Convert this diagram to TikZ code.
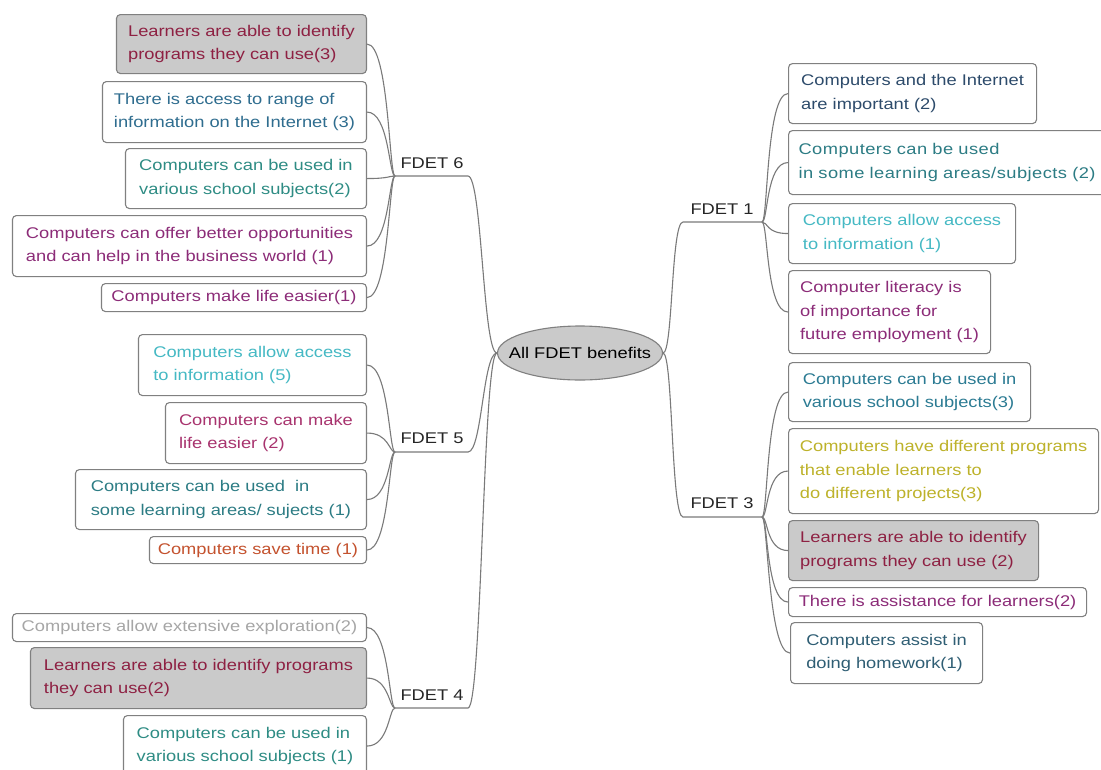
\documentclass[tikz,border=0pt]{standalone}
\usepackage{fontspec}
\setmainfont{Liberation Sans}[FakeStretch=1.18]
\usetikzlibrary{shapes.geometric}

\definecolor{linegray}{HTML}{7A7A7A}
\definecolor{edgegray}{HTML}{808080}
\definecolor{shade}{HTML}{CACACA}
\definecolor{cMaroon}{HTML}{8E2143}
\definecolor{cSteel}{HTML}{2F6D8F}
\definecolor{cTeal}{HTML}{2E8C84}
\definecolor{cTealDk}{HTML}{2C7C84}
\definecolor{cPurple}{HTML}{8C2C78}
\definecolor{cCyan}{HTML}{45B9C4}
\definecolor{cPink}{HTML}{A8336E}
\definecolor{cOrange}{HTML}{C4522E}
\definecolor{cLight}{HTML}{A6A6A6}
\definecolor{cNavy}{HTML}{2D4B6B}
\definecolor{cOlive}{HTML}{BDB22A}
\definecolor{cSlate}{HTML}{2F5E74}
\definecolor{cBlueTeal}{HTML}{2B7B93}

\begin{document}
\begin{tikzpicture}[x=1pt,y=-1pt,
  conn/.style={draw=linegray, line width=1.1pt},
  leaf/.style={draw=edgegray, rounded corners=4pt, line width=1.1pt, fill=white,
    inner xsep=8pt, inner ysep=1pt, align=left,
    font=\fontsize{15.5}{23.3}\selectfont},
  shaded/.style={fill=shade},
  lbox/.style={leaf, anchor=north east},
  rbox/.style={leaf, anchor=north west},
  branch/.style={font=\fontsize{15.5}{18}\selectfont, text=black!85, inner sep=1pt},
  tobox/.style={out=180, in=0, out distance=6pt, in distance=22pt},
  torbox/.style={out=0, in=180, out distance=6pt, in distance=22pt}]

\fill[white, use as bounding box] (0,0) rectangle (1101,769);

% central topic
\node[ellipse, draw=edgegray, fill=shade, line width=1.1pt, minimum width=165pt,
  minimum height=54pt, inner sep=0pt, font=\fontsize{15.5}{18}\selectfont]
  (root) at (580,353) {\makebox[0pt]{All FDET benefits}};

% branch labels and their underline ends
\node[branch] (f6) at (432,163) {FDET 6};
\node[branch] (f5) at (432,438) {FDET 5};
\node[branch] (f4) at (432,695) {FDET 4};
\node[branch] (f1) at (722,209) {FDET 1};
\node[branch] (f3) at (722,503) {FDET 3};
\coordinate (f6w) at (395,176); \coordinate (f6e) at (468,176);
\coordinate (f5w) at (395,452); \coordinate (f5e) at (468,452);
\coordinate (f4w) at (395,708); \coordinate (f4e) at (468,708);
\coordinate (f1w) at (683,222); \coordinate (f1e) at (762,222);
\coordinate (f3w) at (683,517); \coordinate (f3e) at (762,517);

% FDET 6
\node[lbox, shaded, minimum width=250pt, minimum height=59pt, text=cMaroon] (a6) at (367,14)
  {Learners are able to identify\\programs they can use(3)};
\node[lbox, minimum width=264pt, minimum height=61pt, text=cSteel] (b6) at (367,81)
  {There is access to range of\\information on the Internet (3)};
\node[lbox, minimum width=241pt, minimum height=60pt, text=cTeal] (c6) at (367,148)
  {Computers can be used in\\various school subjects(2)};
\node[lbox, minimum width=354pt, minimum height=61pt, text=cPurple] (d6) at (367,215)
  {Computers can offer better opportunities\\and can help in the business world (1)};
\node[lbox, minimum width=265pt, minimum height=28pt, text=cPurple] (e6) at (367,283)
  {Computers make life easier(1)};

% FDET 5
\node[lbox, minimum width=228pt, minimum height=61pt, text=cCyan] (a5) at (367,334)
  {Computers allow access\\to information (5)};
\node[lbox, minimum width=201pt, minimum height=61pt, text=cPink] (b5) at (367,402)
  {Computers can make\\life easier (2)};
\node[lbox, minimum width=291pt, minimum height=60pt, text=cTealDk] (c5) at (367,469)
  {Computers can be used\ \ in\\some learning areas/ sujects (1)};
\node[lbox, minimum width=217pt, minimum height=27pt, text=cOrange] (d5) at (367,536)
  {Computers save time (1)};

% FDET 4
\node[lbox, minimum width=354pt, minimum height=28pt, text=cLight] (a4) at (367,613)
  {Computers allow extensive exploration(2)};
\node[lbox, shaded, minimum width=336pt, minimum height=61pt, text=cMaroon] (b4) at (367,647)
  {Learners are able to identify programs\\they can use(2)};
\node[lbox, minimum width=243pt, minimum height=61pt, text=cTeal] (c4) at (367,715)
  {Computers can be used in\\various school subjects (1)};

% FDET 1
\node[rbox, minimum width=248pt, minimum height=60pt, text=cNavy] (a1) at (788,63)
  {Computers and the Internet\\are important (2)};
\node[rbox, minimum height=64pt, text width=310pt, inner xsep=10pt, text=cTealDk,
  font=\fontsize{15.5}{23.3}\selectfont\addfontfeature{LetterSpace=3}] (b1) at (788,130)
  {Computers can be used\\in some learning areas/subjects (2)};
\node[rbox, minimum width=227pt, minimum height=60pt, text=cCyan] (c1) at (788,203)
  {Computers allow access\\to information (1)};
\node[rbox, minimum width=202pt, minimum height=83pt, text=cPurple] (d1) at (788,270)
  {Computer literacy is\\of importance for\\future employment (1)};

% FDET 3
\node[rbox, minimum width=242pt, minimum height=59pt, text=cBlueTeal] (a3) at (788,362)
  {Computers can be used in\\various school subjects(3)};
\node[rbox, minimum width=310pt, minimum height=85pt, text=cOlive] (b3) at (788,428)
  {Computers have different programs\\that enable learners to\\do different projects(3)};
\node[rbox, shaded, minimum width=250pt, minimum height=60pt, text=cMaroon] (c3) at (788,520)
  {Learners are able to identify\\programs they can use (2)};
\node[rbox, minimum width=298pt, minimum height=29pt, text=cPurple] (d3) at (788,587)
  {There is assistance for learners(2)};
\node[rbox, minimum width=192pt, minimum height=61pt, text=cSlate] (e3) at (790,622)
  {Computers assist in\\doing homework(1)};

% main branches
\draw[conn] (root.west) to[out=180, in=0, out distance=14pt, in distance=14pt] (f6e) -- (f6w);
\draw[conn] (root.west) to[out=180, in=0, out distance=14pt, in distance=14pt] (f5e) -- (f5w);
\draw[conn] (root.west) to[out=180, in=0, out distance=14pt, in distance=14pt] (f4e) -- (f4w);
\draw[conn] (root.east) to[out=0, in=180, out distance=10pt, in distance=12pt] (f1w) -- (f1e);
\draw[conn] (root.east) to[out=0, in=180, out distance=10pt, in distance=12pt] (f3w) -- (f3e);

% sub-branches
\foreach \b in {a6,b6,c6,d6,e6} \draw[conn] (f6w) to[tobox] (\b.east);
\foreach \b in {a5,b5,c5,d5} \draw[conn] (f5w) to[tobox] (\b.east);
\foreach \b in {a4,b4,c4} \draw[conn] (f4w) to[tobox] (\b.east);
\foreach \b in {a1,b1,c1,d1} \draw[conn] (f1e) to[torbox] (\b.west);
\foreach \b in {a3,b3,c3,d3,e3} \draw[conn] (f3e) to[torbox] (\b.west);
\end{tikzpicture}
\end{document}
